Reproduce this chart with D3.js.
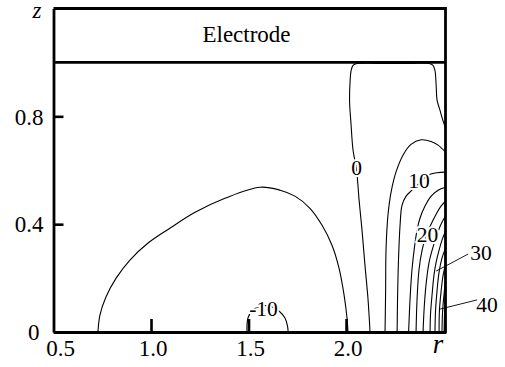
<!DOCTYPE html>
<html>
<head>
<meta charset="utf-8">
<script src="https://cdn.jsdelivr.net/npm/d3@7"></script>
<style>
  html, body { margin: 0; padding: 0; background: #fff; }
  svg { display: block; }
</style>
</head>
<body>
<svg id="chart" width="505" height="367"></svg>
<script>
// Contour lines, [r, z] pairs
const contourM10 = [[1.492, 0], [1.497, 0.052], [1.518, 0.078], [1.549, 0.093], [1.585, 0.098],
  [1.621, 0.093], [1.656, 0.078], [1.687, 0.052], [1.700, 0.022], [1.703, 0]];
const contourM5 = [[0.728, 0], [0.738, 0.063], [0.769, 0.130], [0.821, 0.200], [0.892, 0.267],
  [0.985, 0.330], [1.097, 0.385], [1.226, 0.444], [1.379, 0.496], [1.559, 0.537], [1.662, 0.526],
  [1.738, 0.504], [1.815, 0.459], [1.877, 0.396], [1.928, 0.322], [1.964, 0.237], [1.990, 0.137],
  [2.005, 0.052], [2.010, 0]];
const contour0 = [[2.123, 0], [2.113, 0.119], [2.097, 0.248], [2.082, 0.378], [2.067, 0.489],
  [2.054, 0.600], [2.036, 0.674], [2.026, 0.767], [2.018, 0.859], [2.021, 0.933], [2.026, 0.970],
  [2.036, 0.989], [2.056, 0.996], [2.174, 0.996], [2.328, 0.996], [2.426, 0.996], [2.446, 0.989],
  [2.456, 0.970], [2.462, 0.915], [2.467, 0.859], [2.482, 0.822], [2.492, 0.796], [2.51, 0.756]];
const contour5 = [[2.200, 0], [2.203, 0.156], [2.205, 0.304], [2.215, 0.433], [2.231, 0.519],
  [2.256, 0.593], [2.292, 0.656], [2.333, 0.696], [2.385, 0.713], [2.436, 0.707], [2.472, 0.693],
  [2.51, 0.667]];
const contour10 = [[2.51, 0.593], [2.467, 0.591], [2.431, 0.585], [2.400, 0.570], [2.369, 0.548],
  [2.338, 0.526], [2.308, 0.504], [2.287, 0.470], [2.277, 0.396], [2.269, 0.267], [2.264, 0.119],
  [2.262, 0]];
const contour15 = [[2.51, 0.537], [2.472, 0.526], [2.436, 0.504], [2.405, 0.467], [2.379, 0.422],
  [2.364, 0.378], [2.351, 0.315], [2.338, 0.230], [2.328, 0.119], [2.321, 0]];
const contour20 = [[2.51, 0.485], [2.487, 0.467], [2.462, 0.437], [2.436, 0.400], [2.410, 0.356],
  [2.390, 0.304], [2.374, 0.230], [2.364, 0.119], [2.359, 0]];
const contour25 = [[2.51, 0.430], [2.487, 0.400], [2.467, 0.363], [2.446, 0.315], [2.426, 0.259],
  [2.410, 0.174], [2.400, 0.081], [2.395, 0]];
const contour30 = [[2.51, 0.374], [2.492, 0.341], [2.477, 0.304], [2.462, 0.259], [2.451, 0.211],
  [2.441, 0.137], [2.433, 0.063], [2.431, 0]];
const contour35 = [[2.51, 0.311], [2.492, 0.274], [2.477, 0.222], [2.467, 0.156], [2.459, 0.081],
  [2.456, 0]];
const contour40 = [[2.51, 0.252], [2.497, 0.207], [2.487, 0.148], [2.479, 0.081], [2.477, 0]];
const contour45 = [[2.51, 0.193], [2.503, 0.144], [2.495, 0.074], [2.492, 0]];
const contour50 = [[2.51, 0.133], [2.505, 0.067], [2.503, 0]];

const contourLevels = [-10, -5, 0, 5, 10, 15, 20, 25, 30, 35, 40, 45, 50];
const contourLines = [contourM10, contourM5, contour0, contour5, contour10, contour15, contour20,
  contour25, contour30, contour35, contour40, contour45, contour50];

// Inline labels and the two leader lines
const labelText = ['-10', '0', '10', '20', '30', '40'];
const labelPos = [[1.577, 0.087], [2.054, 0.609], [2.374, 0.561], [2.418, 0.361], [2.692, 0.296], [2.723, 0.100]];
const leaderLines = [
  [[2.626, 0.289], [2.462, 0.226]],
  [[2.672, 0.119], [2.482, 0.085]],
];

const rTicks = [0.5, 1.0, 1.5, 2.0];
const zTicks = [0, 0.4, 0.8];
const rMin = 0.5, rMax = 2.51;
const zElectrode = 1.0, zTop = 1.2;

const svg = d3.select('#chart');
const x = d3.scaleLinear().domain([rMin, rMax]).range([53.5, 445.5]);
const y = d3.scaleLinear().domain([0, zTop]).range([332, 8.5]);
const serif = '"Liberation Serif"';

const line = d3.line()
  .x(d => x(d[0]))
  .y(d => y(d[1]))
  .curve(d3.curveCatmullRom.alpha(0.5));

// contour lines
svg.append('g')
  .selectAll('path')
  .data(contourLines)
  .join('path')
  .attr('d', line)
  .attr('fill', 'none')
  .attr('stroke', '#000')
  .attr('stroke-width', 1.1);

// leaders to the 30 / 40 labels
svg.append('g')
  .selectAll('path')
  .data(leaderLines)
  .join('path')
  .attr('d', d3.line().x(d => x(d[0])).y(d => y(d[1])))
  .attr('stroke', '#000')
  .attr('stroke-width', 0.9);

// contour labels, white halo breaks the line underneath
svg.append('g')
  .selectAll('text')
  .data(labelText)
  .join('text')
  .attr('x', (d, i) => x(labelPos[i][0]))
  .attr('y', (d, i) => y(labelPos[i][1]))
  .attr('dy', '0.34em')
  .attr('text-anchor', 'middle')
  .style('font-family', serif)
  .style('font-size', '21.5px')
  .attr('fill', '#000')
  .attr('stroke', '#fff')
  .attr('stroke-width', 4)
  .attr('paint-order', 'stroke')
  .text(d => d);

// electrode box + frame
const frame = svg.append('g')
  .attr('fill', 'none')
  .attr('stroke', '#000')
  .attr('stroke-width', 2.8);
frame.append('line')
  .attr('x1', x(rMin)).attr('x2', x(rMax))
  .attr('y1', y(zTop)).attr('y2', y(zTop));
frame.append('line')
  .attr('x1', x(rMin)).attr('x2', x(rMax))
  .attr('y1', y(zElectrode)).attr('y2', y(zElectrode));
frame.append('line')
  .attr('x1', x(rMax)).attr('x2', x(rMax))
  .attr('y1', y(zTop) - 1.4).attr('y2', y(0) + 1.4);

svg.append('text')
  .attr('x', x((rMin + rMax) / 2) - 3)
  .attr('y', 42)
  .attr('text-anchor', 'middle')
  .style('font-family', serif)
  .style('font-size', '23px')
  .text('Electrode');

// axes, ticks point inward
const xAxis = svg.append('g')
  .attr('transform', `translate(0,${y(0)})`)
  .call(d3.axisBottom(x).tickValues(rTicks).tickFormat(d3.format('.1f'))
    .tickSizeInner(-13).tickSizeOuter(0));
const yAxis = svg.append('g')
  .attr('transform', `translate(${x(rMin)},0)`)
  .call(d3.axisLeft(y).tickValues(zTicks).tickFormat(d => d === 0 ? '0' : d.toFixed(1))
    .tickSizeInner(-10).tickSizeOuter(0).tickPadding(10));

[xAxis, yAxis].forEach(g => {
  g.attr('font-family', null).attr('font-size', null);
  g.select('.domain').attr('stroke', '#000').attr('stroke-width', 2.8);
  g.selectAll('.tick line').attr('stroke', '#000').attr('stroke-width', 2.6);
  g.selectAll('.tick text')
    .attr('fill', '#000')
    .style('font-family', serif)
    .style('font-size', '23px');
});
xAxis.select('.tick line').remove();
xAxis.selectAll('.tick text')
  .attr('y', 24).attr('dy', null)
  .attr('dx', d => d === 0.5 ? 6.5 : 1.5);
yAxis.selectAll('.tick text')
  .attr('dy', '0.34em')
  .attr('dx', d => d === 0 ? -4 : 0);

// axis symbols
svg.append('text')
  .attr('x', 37).attr('y', 18)
  .attr('text-anchor', 'middle')
  .style('font-family', serif)
  .style('font-size', '23px')
  .style('font-style', 'italic')
  .text('z');
svg.append('text')
  .attr('x', 438).attr('y', 353)
  .attr('text-anchor', 'middle')
  .style('font-family', serif)
  .style('font-size', '27px')
  .style('font-style', 'italic')
  .text('r');
</script>
</body>
</html>
